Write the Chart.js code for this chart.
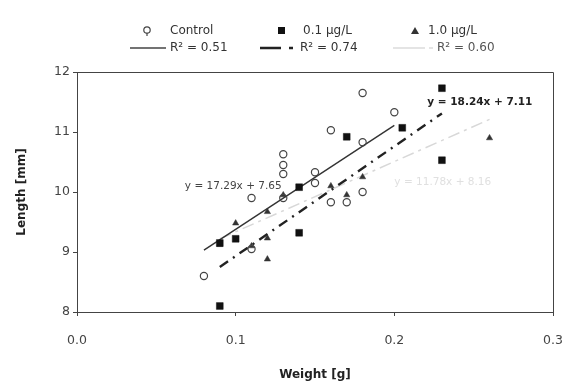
<!DOCTYPE html>
<html><head><meta charset="utf-8">
<script src="https://cdn.jsdelivr.net/npm/chart.js@4"></script>
<style>html,body{margin:0;padding:0;background:#fff}#wrap{width:568px;height:382px}</style>
</head><body><div id="wrap"><canvas id="c" width="568" height="382"></canvas></div>
<script>
// Data
const controlWeight = [0.08,0.11,0.11,0.13,0.13,0.13,0.13,0.15,0.15,0.16,0.16,0.17,0.18,0.18,0.18,0.20];
const controlLength = [8.6,9.05,9.9,10.63,10.45,10.3,9.9,10.33,10.15,11.03,9.83,9.83,10.0,10.83,11.65,11.33];
const low01Weight = [0.09,0.09,0.10,0.14,0.14,0.17,0.205,0.23,0.23];
const low01Length = [8.1,9.15,9.22,9.32,10.08,10.92,11.07,11.73,10.53];
const high10Weight = [0.09,0.10,0.11,0.12,0.12,0.12,0.13,0.16,0.17,0.18,0.26];
const high10Length = [9.12,9.48,9.1,9.23,8.88,9.67,9.95,10.1,9.95,10.25,10.9];
// Trend line end points (from the fitted equations shown)
const controlTrendX = [0.08,0.20];
const controlTrendY = [9.03,11.11];
const low01TrendX = [0.09,0.23];
const low01TrendY = [8.75,11.31];
const high10TrendX = [0.09,0.26];
const high10TrendY = [9.22,11.21];
const xTicks = [0.0,0.1,0.2,0.3];
const yTicks = [8,9,10,11,12];
const seriesNames = ['Control','0.1 µg/L','1.0 µg/L'];
const r2Labels = ['R² = 0.51','R² = 0.74','R² = 0.60'];
const equations = ['y = 17.29x + 7.65','y = 18.24x + 7.11','y = 11.78x + 8.16'];
const equationAnchors = [[0.129,10.1],[0.2208,11.5],[0.20,10.17]];

const pts = (xs,ys)=>xs.map((x,i)=>({x:x,y:ys[i]}));
const FONT = "'DejaVu Sans', 'Liberation Sans', Arial, sans-serif";

const overlay = {
  id:'overlay',
  afterDraw(chart){
    const ctx = chart.ctx, a = chart.chartArea;
    const xs = chart.scales.x, ys = chart.scales.y;
    ctx.save();
    ctx.strokeStyle = '#444'; ctx.lineWidth = 1;
    ctx.beginPath();
    ctx.moveTo(a.left, a.top+0.5); ctx.lineTo(a.right+0.5, a.top+0.5); ctx.lineTo(a.right+0.5, a.bottom);
    ctx.stroke();
    ctx.textBaseline = 'middle';
    ctx.font = '10.5px ' + FONT; ctx.fillStyle = '#444'; ctx.textAlign = 'right';
    ctx.fillText(equations[0], xs.getPixelForValue(equationAnchors[0][0]), ys.getPixelForValue(equationAnchors[0][1]));
    ctx.font = 'bold 10.5px ' + FONT; ctx.fillStyle = '#222'; ctx.textAlign = 'left';
    ctx.fillText(equations[1], xs.getPixelForValue(equationAnchors[1][0]), ys.getPixelForValue(equationAnchors[1][1]));
    ctx.font = '10.5px ' + FONT; ctx.fillStyle = '#e0e0e0'; ctx.textAlign = 'left';
    ctx.fillText(equations[2], xs.getPixelForValue(equationAnchors[2][0]), ys.getPixelForValue(equationAnchors[2][1]));
    ctx.font = '12px ' + FONT; ctx.fillStyle = '#333'; ctx.textAlign = 'left';
    const r1 = 31, r2 = 48;
    ctx.strokeStyle = '#444'; ctx.lineWidth = 1.2;
    ctx.beginPath(); ctx.arc(147, r1-1, 3.2, 0, Math.PI*2); ctx.stroke();
    ctx.beginPath(); ctx.moveTo(147, r1+2); ctx.lineTo(147, r1+5); ctx.stroke();
    ctx.fillText(seriesNames[0], 170, r1);
    ctx.fillStyle = '#111'; ctx.fillRect(278, r1-4, 7, 7);
    ctx.fillStyle = '#333'; ctx.fillText(seriesNames[1], 303, r1);
    ctx.beginPath(); ctx.moveTo(415, r1-4); ctx.lineTo(419, r1+3); ctx.lineTo(411, r1+3); ctx.closePath(); ctx.fill();
    ctx.fillText(seriesNames[2], 428, r1);
    ctx.strokeStyle = '#444'; ctx.lineWidth = 1.3;
    ctx.beginPath(); ctx.moveTo(130, r2); ctx.lineTo(166, r2); ctx.stroke();
    ctx.fillText(r2Labels[0], 170, r2);
    ctx.strokeStyle = '#222'; ctx.lineWidth = 2.5;
    ctx.beginPath(); ctx.moveTo(260, r2); ctx.lineTo(281, r2); ctx.moveTo(289, r2); ctx.lineTo(293, r2); ctx.stroke();
    ctx.fillText(r2Labels[1], 300, r2);
    ctx.strokeStyle = '#dcdcdc'; ctx.lineWidth = 1.5;
    ctx.beginPath(); ctx.moveTo(393, r2); ctx.lineTo(425, r2); ctx.moveTo(429, r2); ctx.lineTo(433, r2); ctx.stroke();
    ctx.fillStyle = '#555';
    ctx.fillText(r2Labels[2], 437, r2);
    ctx.restore();
  }
};

new Chart(document.getElementById('c'), {
  type: 'scatter',
  data: { datasets: [
    { label:'Control trend', type:'line', data: pts(controlTrendX, controlTrendY), borderColor:'#333', borderWidth:1.4, pointRadius:0, fill:false, order:5 },
    { label:'0.1 trend', type:'line', data: pts(low01TrendX, low01TrendY), borderColor:'#222', borderWidth:2.4, borderDash:[10,6,2,6], pointRadius:0, fill:false, order:5 },
    { label:'1.0 trend', type:'line', data: pts(high10TrendX, high10TrendY), borderColor:'#d8d8d8', borderWidth:1.5, borderDash:[12,5,3,5], pointRadius:0, fill:false, order:5 },
    { label:seriesNames[0], data: pts(controlWeight, controlLength), pointStyle:'circle', pointRadius:3.6, borderColor:'#444', borderWidth:1.2, backgroundColor:'rgba(255,255,255,0)', order:1 },
    { label:seriesNames[1], data: pts(low01Weight, low01Length), pointStyle:'rect', pointRadius:4.8, borderColor:'#111', borderWidth:0.5, backgroundColor:'#111', order:1 },
    { label:seriesNames[2], data: pts(high10Weight, high10Length), pointStyle:'triangle', pointRadius:3.6, borderColor:'#333', borderWidth:0.5, backgroundColor:'#333', order:1 }
  ]},
  options: {
    animation:false, responsive:false, devicePixelRatio:1,
    layout:{ padding:{ top:72, right:15, left:0, bottom:0 } },
    plugins:{ legend:{display:false}, tooltip:{enabled:false} },
    scales:{
      x:{ type:'linear', min:0, max:0.3,
        afterBuildTicks(s){ s.ticks = xTicks.map(v=>({value:v})); },
        afterFit(s){ s.height = 70; s.paddingRight = 0; s.paddingLeft = 0; },
        grid:{ drawOnChartArea:false, drawTicks:true, tickLength:4, color:'#444' },
        border:{ color:'#444', width:1 },
        ticks:{ color:'#444', font:{ family:FONT, size:12.5 }, padding:17, maxRotation:0, callback:v=>Number(v).toFixed(1) },
        title:{ display:true, text:'Weight [g]', color:'#222', font:{ family:FONT, size:12, weight:'bold' }, padding:{top:0,bottom:0} }
      },
      y:{ type:'linear', min:8, max:12,
        afterBuildTicks(s){ s.ticks = yTicks.map(v=>({value:v})); },
        afterFit(s){ s.width = 77; s.paddingTop = 0; s.paddingBottom = 0; },
        grid:{ drawOnChartArea:false, drawTicks:true, tickLength:4, color:'#444' },
        border:{ color:'#444', width:1 },
        ticks:{ color:'#444', font:{ family:FONT, size:12.5 }, padding:3 },
        title:{ display:true, text:'Length [mm]', color:'#222', font:{ family:FONT, size:12, weight:'bold' }, padding:{top:15,bottom:0} }
      }
    }
  },
  plugins:[overlay]
});
</script></body></html>
